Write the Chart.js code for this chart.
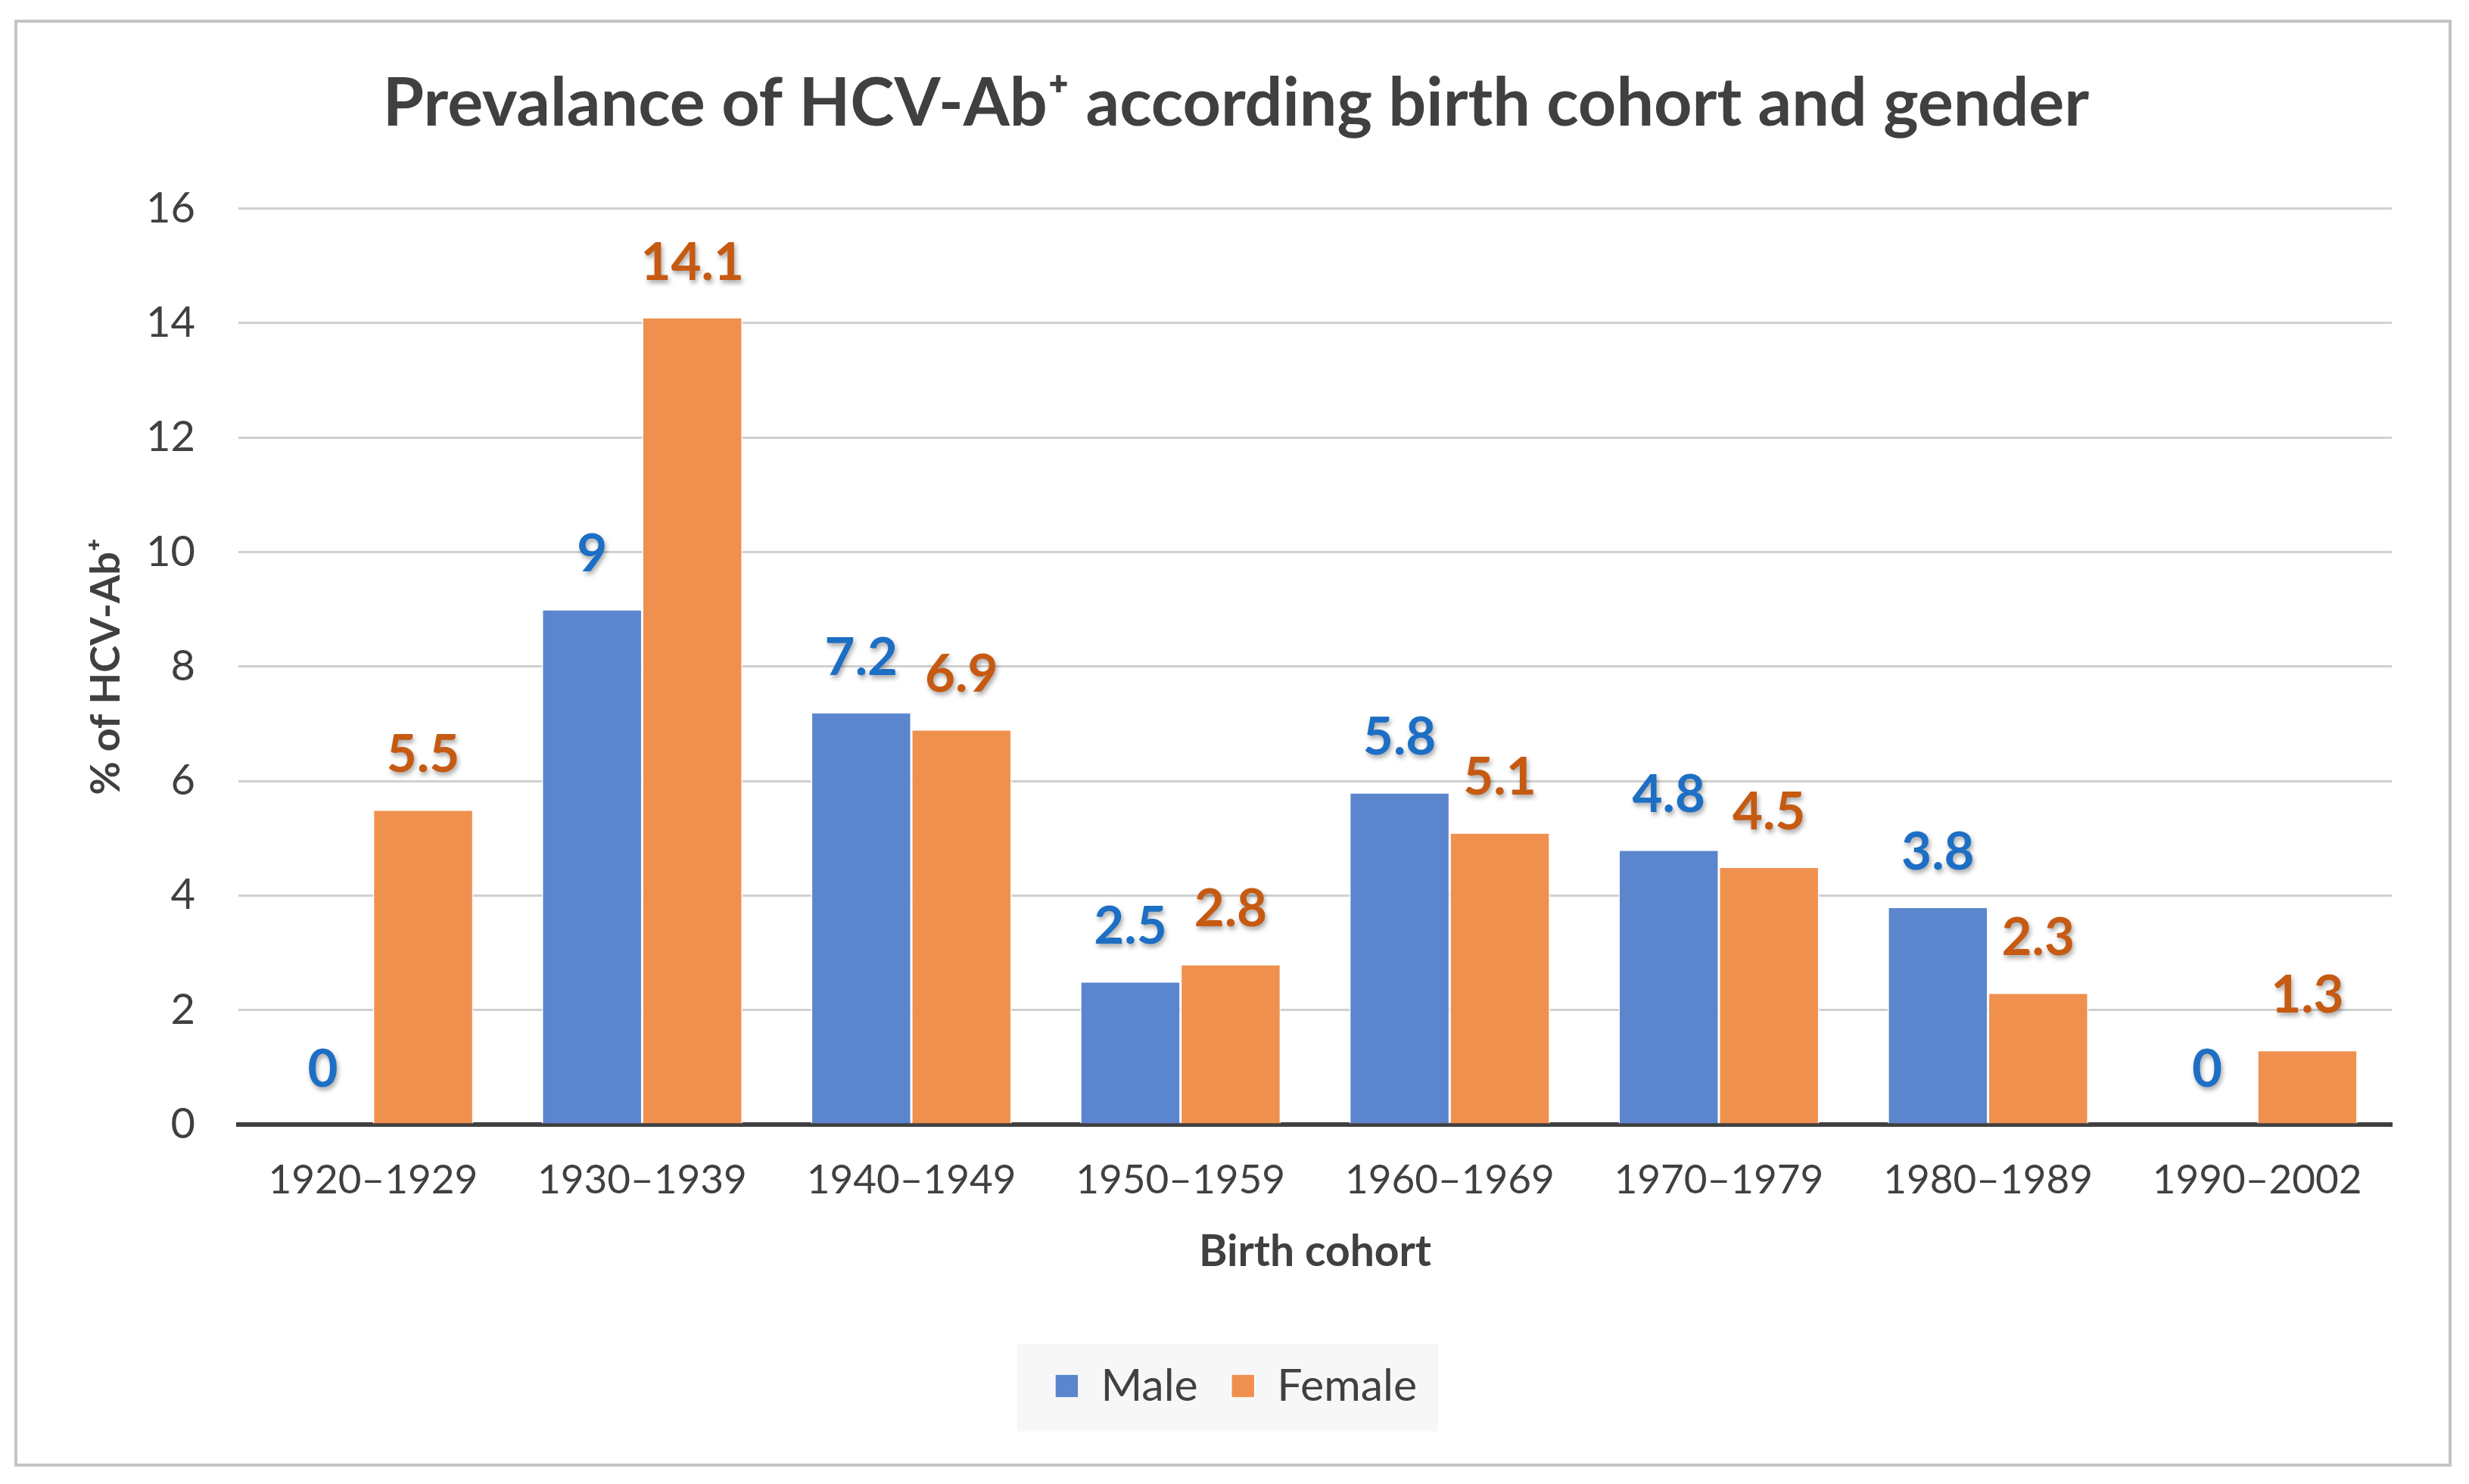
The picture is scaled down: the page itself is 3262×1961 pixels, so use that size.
<!DOCTYPE html>
<html>
<head>
<meta charset="utf-8">
<script src="https://cdn.jsdelivr.net/npm/chart.js@4"></script>
<style>
  body { margin: 0; background: #fff; }
  canvas { display: block; }
</style>
</head>
<body>
<canvas id="grafico" width="3262" height="1961"></canvas>
<script>
// datos
const cohortes = ['1920–1929', '1930–1939', '1940–1949', '1950–1959', '1960–1969', '1970–1979', '1980–1989', '1990–2002'];
const hombres = [0, 9, 7.2, 2.5, 5.8, 4.8, 3.8, 0];
const mujeres = [5.5, 14.1, 6.9, 2.8, 5.1, 4.5, 2.3, 1.3];
const ticksY = [0, 2, 4, 6, 8, 10, 12, 14, 16];

const fuente = 'Lato, "Open Sans", sans-serif';
const gris = '#404040';

// fondo, marco y caja de la leyenda
const fondo = {
  id: 'fondo',
  beforeDraw(chart) {
    const ctx = chart.ctx;
    ctx.save();
    ctx.fillStyle = '#fff';
    ctx.fillRect(0, 0, chart.width, chart.height);
    ctx.strokeStyle = '#c4c4c4';
    ctx.lineWidth = 4;
    ctx.strokeRect(21, 28, 3216, 1908);
    const cajas = chart.legend.legendHitBoxes;
    if (cajas && cajas.length) {
      const izq = cajas[0].left - 50;
      const der = cajas[cajas.length - 1].left + cajas[cajas.length - 1].width + 28;
      const medio = cajas[0].top + cajas[0].height / 2;
      ctx.fillStyle = '#f7f7f7';
      ctx.fillRect(izq, medio - 56, der - izq, 116);
    }
    ctx.restore();
  }
};

// etiquetas encima de cada barra
const etiquetas = {
  id: 'etiquetas',
  afterDatasetsDraw(chart) {
    const ctx = chart.ctx;
    const colores = ['#1c6fc4', '#c65a12'];
    ctx.save();
    ctx.font = 'bold 69px ' + fuente;
    ctx.textAlign = 'center';
    ctx.textBaseline = 'middle';
    ctx.shadowColor = 'rgba(0,0,0,0.35)';
    ctx.shadowBlur = 6;
    ctx.shadowOffsetX = 2;
    ctx.shadowOffsetY = 4;
    chart.data.datasets.forEach((ds, i) => {
      const meta = chart.getDatasetMeta(i);
      ctx.fillStyle = colores[i];
      meta.data.forEach((barra, j) => {
        ctx.fillText(String(ds.data[j]), barra.x, barra.y - 72);
      });
    });
    ctx.restore();
  }
};

const ctx = document.querySelector('#grafico').getContext('2d');
const miGrafico = new Chart(ctx, {
  type: 'bar',
  data: {
    labels: cohortes,
    datasets: [
      { label: 'Male', data: hombres, backgroundColor: '#5b86cd', borderColor: '#ffffff', borderWidth: 1.5, borderSkipped: 'bottom' },
      { label: 'Female', data: mujeres, backgroundColor: '#f0904f', borderColor: '#ffffff', borderWidth: 1.5, borderSkipped: 'bottom' }
    ]
  },
  options: {
    responsive: false,
    animation: false,
    devicePixelRatio: 1,
    datasets: { bar: { categoryPercentage: 0.745, barPercentage: 1 } },
    layout: { padding: { left: 106, right: 102, top: 0, bottom: 90 } },
    plugins: {
      title: {
        display: true,
        text: 'Prevalance of HCV-Ab⁺ according birth cohort and gender',
        color: gris,
        font: { family: fuente, size: 88, weight: 'bold' },
        padding: { top: 85, bottom: 85 }
      },
      legend: {
        position: 'bottom',
        labels: {
          color: gris,
          font: { family: fuente, size: 59 },
          boxWidth: 31,
          boxHeight: 31,
          padding: 44
        }
      },
      tooltip: { enabled: false }
    },
    scales: {
      x: {
        grid: { display: false },
        border: { display: true, color: gris, width: 6 },
        ticks: { color: gris, font: { family: fuente, size: 53 }, padding: 34 },
        title: {
          display: true,
          text: 'Birth cohort',
          color: gris,
          font: { family: fuente, size: 57, weight: 'bold' },
          padding: { top: 0, bottom: 69 }
        },
        afterFit(scale) { scale.height = 272; }
      },
      y: {
        min: 0,
        max: 16,
        afterBuildTicks(scale) { scale.ticks = ticksY.map(v => ({ value: v })); },
        grid: { color: '#d0d0d0', lineWidth: 3, drawTicks: false },
        border: { display: false },
        ticks: { color: gris, font: { family: fuente, size: 56 }, padding: 57 },
        title: {
          display: true,
          text: '% of HCV-Ab⁺',
          color: gris,
          font: { family: fuente, size: 54, weight: 'bold' },
          padding: { top: 2, bottom: 0 }
        },
        afterFit(scale) { scale.width = 209; }
      }
    }
  },
  plugins: [fondo, etiquetas]
});
</script>
</body>
</html>
